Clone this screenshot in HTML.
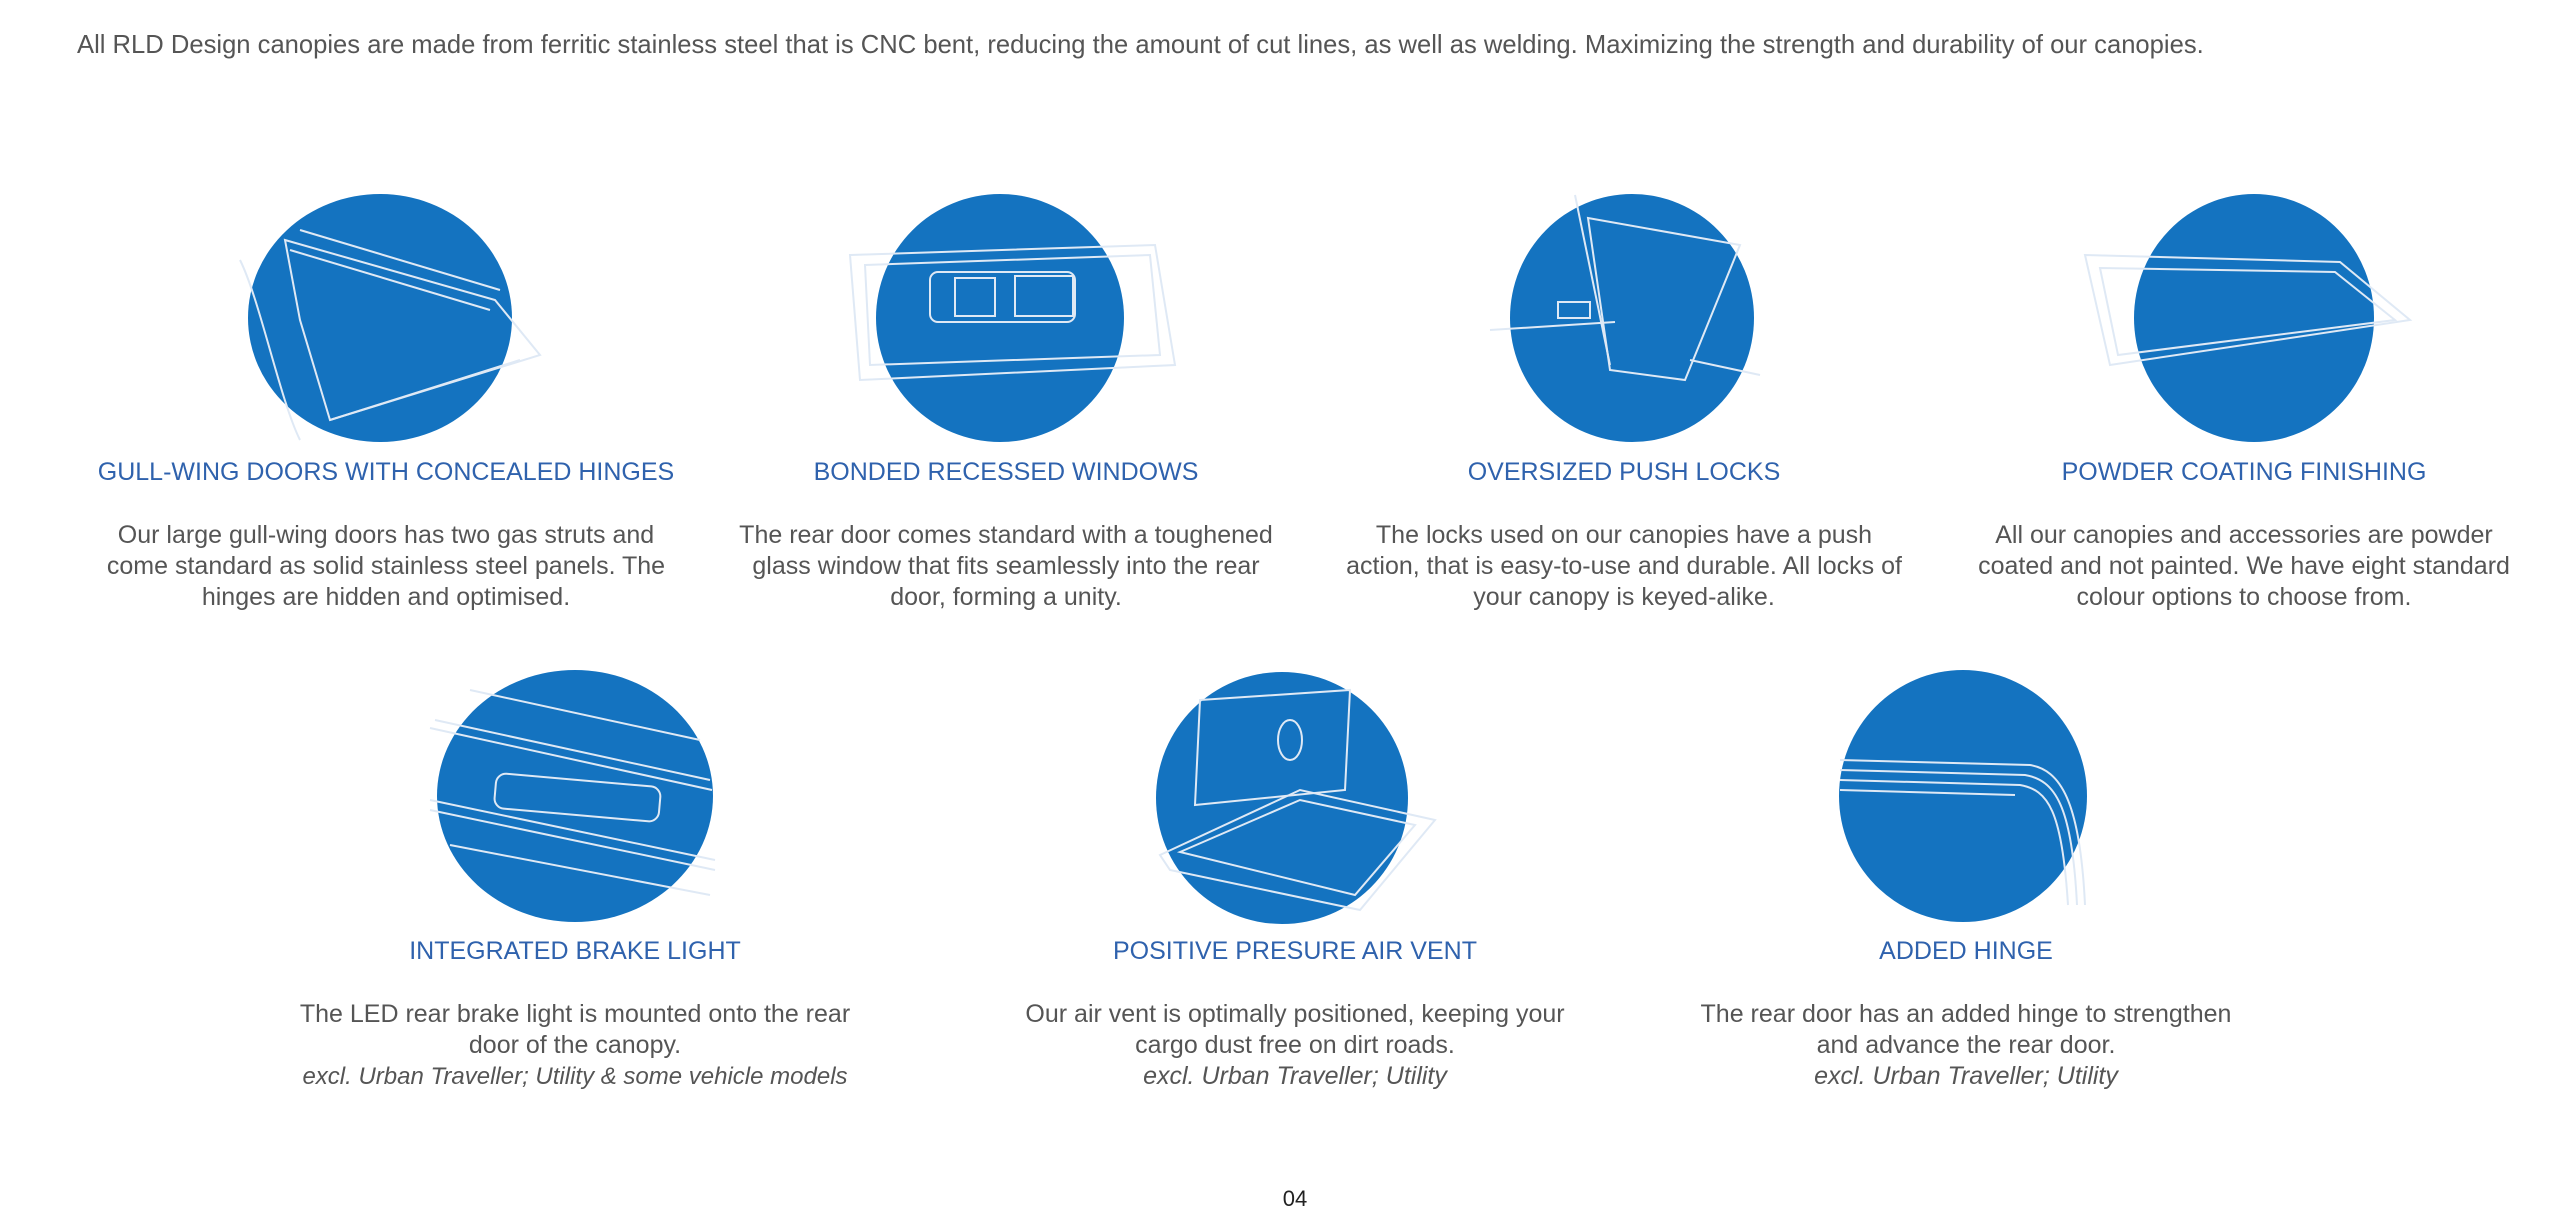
<!DOCTYPE html>
<html><head><meta charset="utf-8"><style>
body{margin:0;width:2560px;height:1215px;background:#fff;position:relative;overflow:hidden;font-family:"Liberation Sans",sans-serif;}
.t{position:absolute;white-space:nowrap;transform:translateX(-50%);text-align:center;}
.h{color:#2f62ad;font-size:25px;}
.d{color:#555;font-size:25px;line-height:31px;}
.i{font-style:italic;}
</style></head><body>
<div style="position:absolute;left:77px;top:31px;font-size:25.6px;color:#555;white-space:nowrap;">All RLD Design canopies are made from ferritic stainless steel that is CNC bent, reducing the amount of cut lines, as well as welding. Maximizing the strength and durability of our canopies.</div>
<svg width="2560" height="1215" style="position:absolute;left:0;top:0" fill="none" stroke="#dfe9f5" stroke-width="2">
<g fill="#1473c0" stroke="none">
<ellipse cx="380" cy="318" rx="132" ry="124"/>
<ellipse cx="1000" cy="318" rx="124" ry="124"/>
<ellipse cx="1632" cy="318" rx="122" ry="124"/>
<ellipse cx="2254" cy="318" rx="120" ry="124"/>
<ellipse cx="575" cy="796" rx="138" ry="126"/>
<ellipse cx="1282" cy="798" rx="126" ry="126"/>
<ellipse cx="1963" cy="796" rx="124" ry="126"/>
</g>
<path d="M285 240 L495 300 L540 355 L330 420 L300 320 Z"/><path d="M300 230 L500 290"/><path d="M290 250 L490 310"/><path d="M330 420 L520 360"/><path d="M240 260 C260 300 280 400 300 440"/>
<path d="M850 255 L1155 245 L1175 365 L860 380 Z"/><path d="M865 265 L1150 255 L1160 355 L870 365 Z"/><rect x="930" y="272" width="145" height="50" rx="8"/><rect x="955" y="278" width="40" height="38"/><rect x="1015" y="276" width="58" height="40"/>
<path d="M1588 218 L1740 245 L1685 380 L1610 370 Z"/><path d="M1490 330 L1615 322"/><path d="M1575 195 L1610 365"/><rect x="1558" y="302" width="32" height="16"/><path d="M1690 360 L1760 375"/>
<path d="M2085 255 L2340 262 L2410 320 L2110 365 Z"/><path d="M2100 268 L2335 272 L2395 320 L2118 355 Z"/>
<path d="M435 720 L710 780"/><path d="M430 728 L712 790"/><path d="M430 800 L715 860"/><path d="M430 810 L715 870"/><path d="M470 690 L700 740"/><path d="M450 845 L710 895"/><rect x="495" y="780" width="165" height="35" rx="10" transform="rotate(5 577 797)"/>
<path d="M1200 700 L1350 690 L1345 790 L1195 805 Z"/><path d="M1160 855 L1300 790 L1435 820 L1360 910 L1170 870 Z"/><path d="M1180 852 L1300 800 L1415 825 L1355 895 Z"/><ellipse cx="1290" cy="740" rx="12" ry="20"/>
<path d="M1840 760 L2030 765 C2060 770 2080 800 2085 905"/><path d="M1840 770 L2025 775 C2055 780 2072 805 2077 905"/><path d="M1840 780 L2020 785 C2048 790 2062 810 2068 905"/><path d="M1840 790 L2015 795"/>
</svg>
<div class="t h" style="left:386px;top:458px">GULL-WING DOORS WITH CONCEALED HINGES</div>
<div class="t h" style="left:1006px;top:458px">BONDED RECESSED WINDOWS</div>
<div class="t h" style="left:1624px;top:458px">OVERSIZED PUSH LOCKS</div>
<div class="t h" style="left:2244px;top:458px">POWDER COATING FINISHING</div>
<div class="t d" style="left:386px;top:520px">Our large gull-wing doors has two gas struts and<br>come standard as solid stainless steel panels. The<br>hinges are hidden and optimised.</div>
<div class="t d" style="left:1006px;top:520px">The rear door comes standard with a toughened<br>glass window that fits seamlessly into the rear<br>door, forming a unity.</div>
<div class="t d" style="left:1624px;top:520px">The locks used on our canopies have a push<br>action, that is easy-to-use and durable. All locks of<br>your canopy is keyed-alike.</div>
<div class="t d" style="left:2244px;top:520px">All our canopies and accessories are powder<br>coated and not painted. We have eight standard<br>colour options to choose from.</div>
<div class="t h" style="left:575px;top:937px">INTEGRATED BRAKE LIGHT</div>
<div class="t h" style="left:1295px;top:937px">POSITIVE PRESURE AIR VENT</div>
<div class="t h" style="left:1966px;top:937px">ADDED HINGE</div>
<div class="t d" style="left:575px;top:999px">The LED rear brake light is mounted onto the rear<br>door of the canopy.<br><span class="i" style="font-size:24px">excl. Urban Traveller; Utility &amp; some vehicle models</span></div>
<div class="t d" style="left:1295px;top:999px">Our air vent is optimally positioned, keeping your<br>cargo dust free on dirt roads.<br><span class="i">excl. Urban Traveller; Utility</span></div>
<div class="t d" style="left:1966px;top:999px">The rear door has an added hinge to strengthen<br>and advance the rear door.<br><span class="i">excl. Urban Traveller; Utility</span></div>
<div class="t" style="left:1295px;top:1186px;font-size:22px;color:#222">04</div>
</body></html>
